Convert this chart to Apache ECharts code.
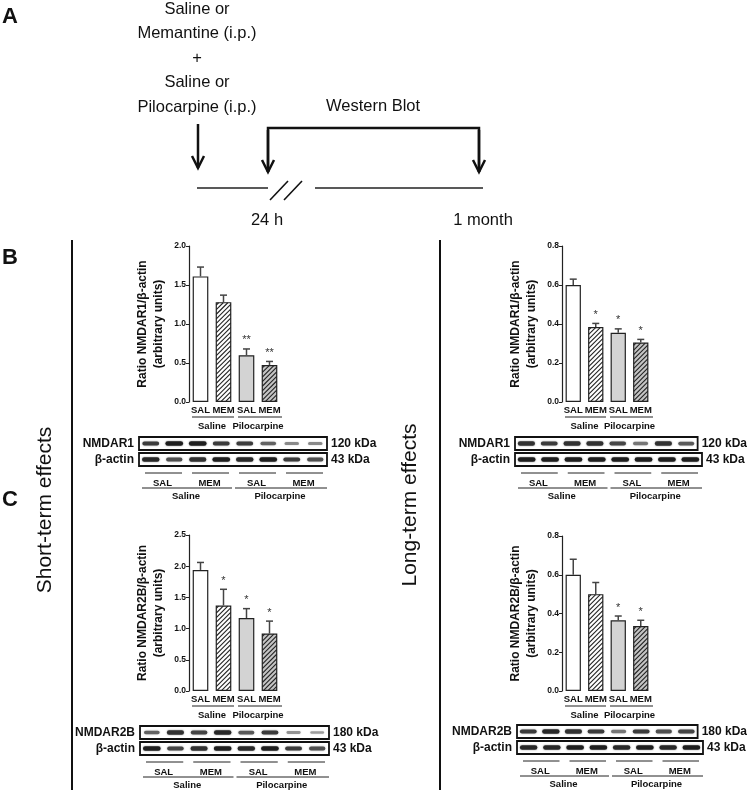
<!DOCTYPE html>
<html>
<head>
<meta charset="utf-8">
<script src="https://cdn.jsdelivr.net/npm/echarts@6/dist/echarts.min.js"></script>
<style>
  html, body { margin: 0; padding: 0; background: #fff; }
  #main { width: 750px; height: 790px; }
</style>
</head>
<body>
<div id="main"></div>
<script>
// ---- data ----
const categories = ['SAL', 'MEM', 'SAL', 'MEM'];
const groups = ['Saline', 'Pilocarpine'];
const lanes = ['1', '2', '3', '4', '5', '6', '7', '8'];

// B: NMDAR1 / beta-actin
const nr1Short = [1.61, 1.28, 0.60, 0.475];
const nr1ShortErr = [0.12, 0.09, 0.08, 0.045];
const nr1ShortSig = ['', '', '**', '**'];
const nr1Long = [0.60, 0.385, 0.355, 0.305];
const nr1LongErr = [0.03, 0.018, 0.02, 0.016];
const nr1LongSig = ['', '*', '*', '*'];

// C: NMDAR2B / beta-actin
const nr2bShort = [1.94, 1.37, 1.17, 0.92];
const nr2bShortErr = [0.12, 0.26, 0.15, 0.20];
const nr2bShortSig = ['', '*', '*', '*'];
const nr2bLong = [0.60, 0.50, 0.365, 0.335];
const nr2bLongErr = [0.08, 0.06, 0.022, 0.03];
const nr2bLongSig = ['', '', '*', '*'];

// western blot band intensity per lane (0-1)
const bandNr1Short = [0.8, 0.95, 0.95, 0.8, 0.8, 0.6, 0.4, 0.4];
const bandActinB1 = [0.9, 0.7, 0.85, 0.95, 0.9, 0.95, 0.8, 0.7];
const bandNr1Long = [0.85, 0.8, 0.85, 0.85, 0.75, 0.5, 0.85, 0.65];
const bandActinB2 = [0.95, 0.95, 0.95, 0.95, 0.95, 0.95, 0.95, 0.95];
const bandNr2bShort = [0.6, 0.85, 0.75, 0.9, 0.65, 0.8, 0.35, 0.3];
const bandActinC1 = [0.95, 0.75, 0.85, 0.95, 0.9, 0.95, 0.8, 0.7];
const bandNr2bLong = [0.8, 0.9, 0.85, 0.8, 0.5, 0.8, 0.7, 0.75];
const bandActinC2 = [0.9, 0.9, 0.95, 0.95, 0.9, 0.95, 0.9, 0.95];

// ---- styles ----
const FONT = '"Liberation Sans", Arial, sans-serif';
const INK = '#111';
const fills = ['#ffffff', '#ffffff', '#d3d3d3', '#c4c4c4'];
const hatched = [false, true, false, true];
const GAP = 0.32; // bar category gap

const chart = echarts.init(document.getElementById('main'));
const grids = [], xAxes = [], yAxes = [], series = [], graphics = [];

function hline(x1, x2, y, w) {
  return { type: 'line', shape: { x1, y1: y, x2, y2: y }, style: { stroke: '#222', lineWidth: w || 1.2 } };
}
function label(text, x, y, size, opts) {
  opts = opts || {};
  return {
    type: 'text', x, y, rotation: opts.rotation || 0,
    style: {
      text, font: (opts.bold ? 'bold ' : '') + size + 'px ' + FONT, fill: INK,
      align: 'center', verticalAlign: 'middle', textAlign: 'center', textVerticalAlign: 'middle'
    }
  };
}
function arrowDown(x, y0, y1) {
  return [
    { type: 'line', shape: { x1: x, y1: y0, x2: x, y2: y1 }, style: { stroke: INK, lineWidth: 2.5 } },
    { type: 'polyline', shape: { points: [[x - 6, y1 - 12], [x, y1], [x + 6, y1 - 12]] }, style: { stroke: INK, lineWidth: 2.5, fill: null } }
  ];
}

// "///" hatch lines clipped to a rect
function hatchLines(x0, y0, x1, y1, step) {
  const out = [];
  for (let c = x0 + y0 + step / 2; c < x1 + y1; c += step) {
    const xa = Math.max(x0, c - y1), xb = Math.min(x1, c - y0);
    if (xb <= xa) continue;
    out.push({ type: 'line', shape: { x1: xa, y1: c - xa, x2: xb, y2: c - xb }, style: { stroke: '#222', lineWidth: 1.1 } });
  }
  return out;
}

// bar chart with error bars
function addChart(box, values, errs, sig, max, interval, name) {
  const g = grids.length;
  grids.push({ left: box.left, top: box.top, width: box.width, height: box.height });
  const xi = xAxes.length;
  const lbl = { interval: 0, margin: 3, fontSize: 9.5, fontWeight: 'bold', color: INK, fontFamily: FONT };
  xAxes.push({ type: 'category', gridIndex: g, data: categories, axisLine: { show: false }, axisTick: { show: false }, axisLabel: lbl });
  xAxes.push({ type: 'category', gridIndex: g, data: groups, position: 'bottom', offset: 16, axisLine: { show: false }, axisTick: { show: false }, axisLabel: lbl });
  const yi = yAxes.length;
  yAxes.push({
    type: 'value', gridIndex: g, min: 0, max, interval,
    name, nameLocation: 'middle', nameGap: 22,
    nameTextStyle: { fontSize: 12, fontWeight: 'bold', lineHeight: 16, color: INK, fontFamily: FONT },
    axisLine: { show: true, lineStyle: { color: '#222', width: 1.2 } },
    axisTick: { show: true, length: 3, lineStyle: { color: '#222' } },
    splitLine: { show: false },
    axisLabel: { fontSize: 8.5, fontWeight: 'bold', margin: 3, color: INK, fontFamily: FONT, formatter: v => v.toFixed(1) }
  });
  series.push({
    type: 'bar', xAxisIndex: xi, yAxisIndex: yi, barCategoryGap: (GAP * 100) + '%', silent: true,
    data: values.map((v, i) => ({
      value: v,
      itemStyle: { color: fills[i], borderColor: '#222', borderWidth: 1.2 }
    }))
  });
  // hatching on the MEM bars
  series.push({
    type: 'custom', xAxisIndex: xi, yAxisIndex: yi, z: 3, silent: true,
    data: values.map((v, i) => [i, hatched[i] ? v : 0]),
    encode: { x: 0, y: 1 },
    renderItem: (params, api) => {
      if (!api.value(1)) return null;
      const top = api.coord([api.value(0), api.value(1)]);
      const base = api.coord([api.value(0), 0]);
      const half = api.size([1, 0])[0] * (1 - GAP) / 2;
      return { type: 'group', children: hatchLines(top[0] - half + 0.6, top[1] + 0.6, top[0] + half - 0.6, base[1] - 0.6, 4.6) };
    }
  });
  series.push({
    type: 'custom', xAxisIndex: xi, yAxisIndex: yi, z: 5, silent: true,
    data: values.map((v, i) => [i, v, errs[i]]),
    encode: { x: 0, y: 1 },
    renderItem: (params, api) => {
      const base = api.coord([api.value(0), api.value(1)]);
      const top = api.coord([api.value(0), api.value(1) + api.value(2)]);
      return {
        type: 'group', children: [
          { type: 'line', shape: { x1: base[0], y1: base[1], x2: top[0], y2: top[1] }, style: { stroke: '#444', lineWidth: 1.5 } },
          { type: 'line', shape: { x1: top[0] - 3.5, y1: top[1], x2: top[0] + 3.5, y2: top[1] }, style: { stroke: '#444', lineWidth: 1.5 } },
          { type: 'text', x: top[0], y: top[1] - 3, style: { text: sig[params.dataIndex], font: '11px ' + FONT, fill: '#333', align: 'center', verticalAlign: 'bottom', textAlign: 'center', textVerticalAlign: 'bottom' } }
        ]
      };
    }
  });
  const y = box.top + box.height + 15;
  const half = box.width / 2;
  graphics.push(hline(box.left + 3, box.left + half - 1, y), hline(box.left + half + 3, box.left + box.width + 1, y));
}

// western blot strips
function addBlot(box, names, kda, rows) {
  rows.forEach((ints, r) => {
    const top = box.top + r * (box.rowH + box.gap);
    const g = grids.length;
    grids.push({ left: box.left, top, width: box.width, height: box.rowH, show: true, borderColor: INK, borderWidth: 1.8, backgroundColor: '#fff' });
    const xi = xAxes.length;
    xAxes.push({ type: 'category', gridIndex: g, data: lanes, show: false });
    const yi = yAxes.length;
    const lbl = { fontSize: 12, fontWeight: 'bold', color: INK, fontFamily: FONT, margin: 5 };
    yAxes.push({ type: 'category', gridIndex: g, data: [names[r]], axisLine: { show: false }, axisTick: { show: false }, axisLabel: lbl });
    yAxes.push({ type: 'category', gridIndex: g, data: [kda[r]], position: 'right', axisLine: { show: false }, axisTick: { show: false }, axisLabel: Object.assign({}, lbl, { margin: 4 }) });
    series.push({
      type: 'custom', xAxisIndex: xi, yAxisIndex: yi, silent: true,
      data: ints.map((k, i) => [i, 0, k]),
      encode: { x: 0, y: 1 },
      renderItem: (params, api) => {
        const c = api.coord([api.value(0), 0]);
        const k = api.value(2);
        const w = 12 + 6 * k, h = 1.8 + 3 * k;
        const v = Math.round(215 - 195 * k);
        return {
          type: 'rect', shape: { x: c[0] - w / 2, y: c[1] - h / 2, width: w, height: h, r: h / 2 },
          style: { fill: 'rgb(' + v + ',' + v + ',' + v + ')', shadowBlur: 2, shadowColor: 'rgba(0,0,0,' + (0.5 * k) + ')' }
        };
      }
    });
    if (r === rows.length - 1) {
      const lbl2 = { interval: 0, fontSize: 9.5, fontWeight: 'bold', color: INK, fontFamily: FONT, margin: 3 };
      xAxes.push({ type: 'category', gridIndex: g, data: categories, position: 'bottom', offset: 9, axisLine: { show: false }, axisTick: { show: false }, axisLabel: lbl2 });
      xAxes.push({ type: 'category', gridIndex: g, data: groups, position: 'bottom', offset: 22, axisLine: { show: false }, axisTick: { show: false }, axisLabel: lbl2 });
      const bottom = top + box.rowH;
      const q = box.width / 4;
      for (let k = 0; k < 4; k++) {
        graphics.push(hline(box.left + k * q + 6, box.left + (k + 1) * q - 4, bottom + 7, 1));
      }
      graphics.push(hline(box.left + 3, box.left + box.width / 2 - 1, bottom + 22, 1));
      graphics.push(hline(box.left + box.width / 2 + 2, box.left + box.width, bottom + 22, 1));
    }
  });
}

const nameNr1 = 'Ratio NMDAR1/β-actin\n(arbitrary units)';
const nameNr2b = 'Ratio NMDAR2B/β-actin\n(arbitrary units)';

addChart({ left: 189, top: 246, width: 92, height: 156 }, nr1Short, nr1ShortErr, nr1ShortSig, 2.0, 0.5, nameNr1);
addChart({ left: 562, top: 246, width: 90, height: 156 }, nr1Long, nr1LongErr, nr1LongSig, 0.8, 0.2, nameNr1);
addChart({ left: 189, top: 535, width: 92, height: 156 }, nr2bShort, nr2bShortErr, nr2bShortSig, 2.5, 0.5, nameNr2b);
addChart({ left: 562, top: 536, width: 90, height: 155 }, nr2bLong, nr2bLongErr, nr2bLongSig, 0.8, 0.2, nameNr2b);

addBlot({ left: 139, top: 437, width: 188, rowH: 13, gap: 3 }, ['NMDAR1', 'β-actin'], ['120 kDa', '43 kDa'], [bandNr1Short, bandActinB1]);
addBlot({ left: 515, top: 437, width: 187, rowH: 13, gap: 3 }, ['NMDAR1', 'β-actin'], ['120 kDa', '43 kDa'], [bandNr1Long, bandActinB2]);
addBlot({ left: 140, top: 726, width: 189, rowH: 13, gap: 3 }, ['NMDAR2B', 'β-actin'], ['180 kDa', '43 kDa'], [bandNr2bShort, bandActinC1]);
addBlot({ left: 517, top: 725, width: 186, rowH: 13, gap: 3 }, ['NMDAR2B', 'β-actin'], ['180 kDa', '43 kDa'], [bandNr2bLong, bandActinC2]);

// ---- panel A timeline ----
graphics.push(label('A', 10, 17, 22, { bold: true }));
const protocol = ['Saline or', 'Memantine (i.p.)', '+', 'Saline or', 'Pilocarpine (i.p.)'];
protocol.forEach((t, i) => graphics.push(label(t, 197, 9 + i * 24.5, 16.5)));
graphics.push(label('Western Blot', 373, 106, 16.5));
graphics.push(...arrowDown(198, 124, 168));
graphics.push({ type: 'polyline', shape: { points: [[268, 172], [268, 128], [479, 128], [479, 172]] }, style: { stroke: INK, lineWidth: 2.5, fill: null } });
graphics.push(...arrowDown(268, 130, 172), ...arrowDown(479, 130, 172));
graphics.push(hline(197, 268, 188, 1.6), hline(315, 483, 188, 1.6));
graphics.push({ type: 'line', shape: { x1: 270, y1: 200, x2: 288, y2: 181 }, style: { stroke: INK, lineWidth: 1.6 } });
graphics.push({ type: 'line', shape: { x1: 284, y1: 200, x2: 302, y2: 181 }, style: { stroke: INK, lineWidth: 1.6 } });
graphics.push(label('24 h', 267, 220, 16.5), label('1 month', 483, 220, 16.5));

// ---- panel letters, dividers, side titles ----
graphics.push(label('B', 10, 258, 22, { bold: true }), label('C', 10, 500, 22, { bold: true }));
graphics.push({ type: 'line', shape: { x1: 72, y1: 240, x2: 72, y2: 790 }, style: { stroke: INK, lineWidth: 2 } });
graphics.push({ type: 'line', shape: { x1: 440, y1: 240, x2: 440, y2: 790 }, style: { stroke: INK, lineWidth: 2 } });
graphics.push(label('Short-term effects', 45, 510, 21, { rotation: Math.PI / 2 }));
graphics.push(label('Long-term effects', 410, 505, 21, { rotation: Math.PI / 2 }));

chart.setOption({
  backgroundColor: '#fff',
  animation: false,
  grid: grids,
  xAxis: xAxes,
  yAxis: yAxes,
  series,
  graphic: { elements: graphics }
});
</script>
</body>
</html>
